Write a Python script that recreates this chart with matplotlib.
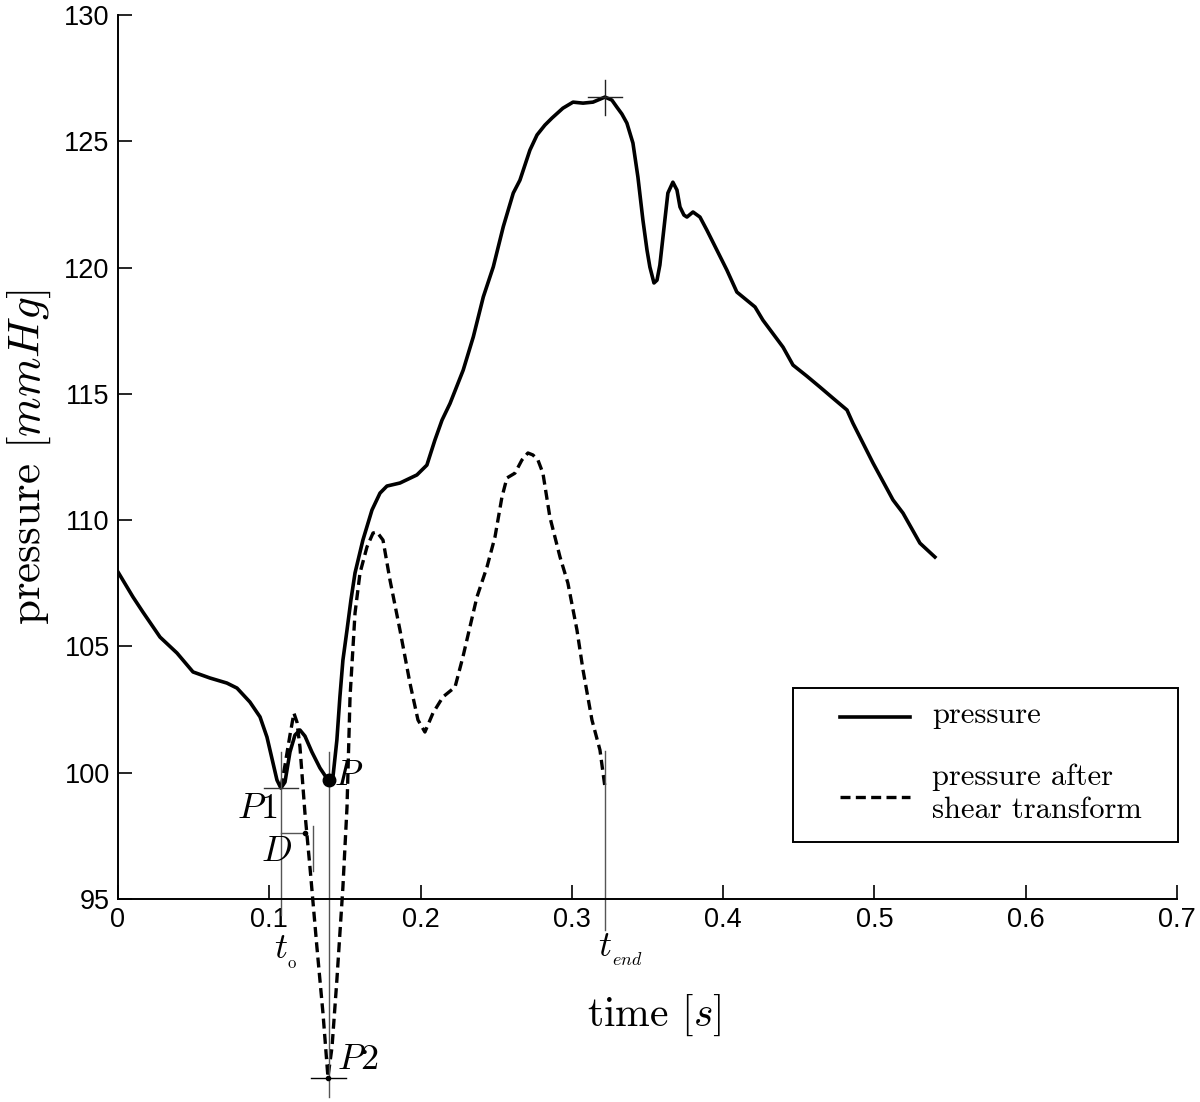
import matplotlib
matplotlib.use('Agg')
import matplotlib.pyplot as plt
from matplotlib.patches import Rectangle

plt.rcParams['font.family'] = 'cmr10'
plt.rcParams['mathtext.fontset'] = 'cm'
plt.rcParams['axes.unicode_minus'] = False
plt.rcParams['axes.formatter.use_mathtext'] = True

# pressure curve
time_s = [0.000, 0.0099, 0.0165, 0.0278, 0.0390, 0.0496, 0.0608, 0.0720, 0.0787,
          0.0872, 0.0939, 0.0985, 0.1025, 0.1051, 0.1077, 0.1104, 0.1137, 0.1170,
          0.1203, 0.1236, 0.1282, 0.1335, 0.1375, 0.1395, 0.1421, 0.1447, 0.1467,
          0.1487, 0.1514, 0.1540, 0.1567, 0.1619, 0.1679, 0.1732, 0.1778, 0.1864,
          0.1976, 0.2042, 0.2095, 0.2142, 0.2195, 0.2282, 0.2349, 0.2415, 0.2481,
          0.2547, 0.2613, 0.2657, 0.2723, 0.2770, 0.2822, 0.2869, 0.2941, 0.3008,
          0.3074, 0.3140, 0.3219, 0.3265, 0.3298, 0.3331, 0.3364, 0.3404, 0.3437,
          0.3470, 0.3497, 0.3516, 0.3543, 0.3563, 0.3582, 0.3615, 0.3635, 0.3668,
          0.3695, 0.3715, 0.3741, 0.3761, 0.3801, 0.3847, 0.3893, 0.3959, 0.4025,
          0.4091, 0.4211, 0.4263, 0.4396, 0.4462, 0.4554, 0.4640, 0.4726, 0.4819,
          0.4858, 0.4991, 0.5123, 0.5189, 0.5301, 0.5400]
pressure = [107.95, 106.96, 106.36, 105.37, 104.74, 103.99, 103.75, 103.55, 103.35,
            102.80, 102.21, 101.41, 100.38, 99.71, 99.39, 99.63, 100.82, 101.49,
            101.69, 101.45, 100.82, 100.19, 99.83, 99.71, 99.83, 101.29, 103.00,
            104.46, 105.65, 106.84, 107.91, 109.21, 110.40, 111.07, 111.35, 111.47,
            111.79, 112.18, 113.17, 113.96, 114.62, 115.94, 117.26, 118.84, 120.03,
            121.62, 122.95, 123.46, 124.65, 125.25, 125.64, 125.92, 126.31, 126.55,
            126.51, 126.55, 126.75, 126.63, 126.35, 126.08, 125.72, 124.93, 123.58,
            121.88, 120.69, 120.02, 119.39, 119.50, 120.10, 121.88, 122.95, 123.38,
            123.07, 122.40, 122.08, 122.00, 122.20, 122.00, 121.48, 120.69, 119.90,
            119.03, 118.44, 117.92, 116.85, 116.14, 115.70, 115.27, 114.83, 114.36,
            113.84, 112.26, 110.80, 110.28, 109.09, 108.54]

# pressure after shear transform
time_shear = [0.1077, 0.1104, 0.1137, 0.1163, 0.1183, 0.1203, 0.1236, 0.1269, 0.1315,
              0.1355, 0.1388, 0.1415, 0.1447, 0.1487, 0.1514, 0.1534, 0.1567, 0.1600,
              0.1646, 0.1686, 0.1712, 0.1752, 0.1798, 0.1864, 0.1930, 0.1983, 0.2029,
              0.2082, 0.2148, 0.2228, 0.2280, 0.2373, 0.2439, 0.2492, 0.2538, 0.2571,
              0.2624, 0.2670, 0.2710, 0.2743, 0.2776, 0.2809, 0.2855, 0.2922, 0.2974,
              0.3034, 0.3074, 0.3133, 0.3186, 0.3219]
pressure_shear = [99.39, 100.30, 101.49, 102.36, 102.01, 101.02, 98.40, 96.27, 93.10,
                  90.49, 87.95, 89.14, 91.79, 95.48, 98.64, 103.00, 106.32, 107.91,
                  108.94, 109.49, 109.53, 109.21, 107.63, 105.65, 103.55, 102.09, 101.61,
                  102.36, 103.00, 103.39, 104.58, 106.96, 108.14, 109.33, 110.91, 111.67,
                  111.86, 112.38, 112.66, 112.58, 112.38, 111.86, 110.12, 108.54, 107.51,
                  105.65, 104.07, 102.09, 100.90, 99.43]

# marked points
t0, p1 = 0.1077, 99.39
tp, pp = 0.1395, 99.71
tp2, p2 = 0.1388, 87.90
t_end = 0.3219
t_max, p_max = 0.3219, 126.75
d_end = 0.1236

x_ticks = [0, 0.1, 0.2, 0.3, 0.4, 0.5, 0.6, 0.7]
x_tick_labels = ['0', '0.1', '0.2', '0.3', '0.4', '0.5', '0.6', '0.7']
y_ticks = [95, 100, 105, 110, 115, 120, 125, 130]
legend_labels = ['pressure', 'pressure after\nshear transform']

fig = plt.figure(figsize=(12, 11.02), dpi=100)
ax = fig.add_axes([0.0983, 0.1842, 0.8825, 0.8022])

ax.plot(time_s, pressure, color='black', lw=2.6)
ax.plot(time_shear, pressure_shear, color='black', lw=2.4, dashes=(3, 1.6),
        clip_on=False)

grey = '#555555'
thin = dict(color=grey, lw=1.0, clip_on=False)
ax.plot([t0, t0], [100.82, 94.37], **thin)
ax.plot([tp, tp], [100.82, 87.16], **thin)
ax.plot([t_end, t_end], [100.86, 93.77], **thin)
ax.plot([0.0965, 0.1190], [p1, p1], color='#333333', lw=1.0)
ax.plot([0.1276, 0.1507], [p2, p2], color='black', lw=1.0, clip_on=False)
ax.plot([0.3107, 0.3331], [p_max, p_max], color='#222222', lw=1.0)
ax.plot([t_max, t_max], [127.42, 126.04], color='#222222', lw=1.0)
ax.plot([t0, d_end], [97.61, 97.61], color=grey, lw=1.0)
ax.plot([d_end], [97.61], 'o', color='black', ms=3)
ax.plot([0.1289, 0.1289], [97.89, 96.11], **thin)
ax.plot([tp], [pp], 'o', color='black', ms=9)
ax.plot([tp2], [p2], 'o', color='black', ms=3, clip_on=False)

ax.text(0.1053, 98.55, r'$P$1', fontsize=26, ha='right', va='center')
ax.text(0.1430, 99.85, r'$P$', fontsize=26, ha='left', va='center')
ax.text(0.1150, 96.86, r'$D$', fontsize=26, ha='right', va='center')
ax.text(0.1077, 93.0, r'$t$', fontsize=26, ha='center', va='center')
ax.text(0.1122, 92.45, 'o', fontsize=12, ha='left', va='center')
ax.text(0.3219, 93.1, r'$t$', fontsize=26, ha='center', va='center')
ax.text(0.3268, 92.6, r'$end$', fontsize=13, ha='left', va='center')
ax.text(0.1450, 88.6, r'$P$2', fontsize=26, ha='left', va='center')

ax.set_xlim(0, 0.7)
ax.set_ylim(95, 130)
ax.set_xticks(x_ticks)
ax.set_xticklabels(x_tick_labels)
ax.set_yticks(y_ticks)
ax.set_yticklabels([str(v) for v in y_ticks])
for lab in ax.get_xticklabels() + ax.get_yticklabels():
    lab.set_fontfamily('Liberation Sans')
    lab.set_fontsize(19.5)
ax.tick_params(direction='in', length=10, width=1.2, pad=6)
ax.spines['top'].set_visible(False)
ax.spines['right'].set_visible(False)
ax.spines['left'].set_linewidth(1.4)
ax.spines['bottom'].set_linewidth(1.4)

ax.set_xlabel(r'time $[s]$', fontsize=30)
ax.xaxis.set_label_coords(0.506, -0.106)
ax.set_ylabel(r'pressure $[mmHg]$', fontsize=32.5, labelpad=8)

# legend box, drawn by hand to match the original layout
tr = ax.transAxes
ax.add_patch(Rectangle((0.6374, 0.0645), 0.3635, 0.1742, transform=tr,
                       facecolor='white', edgecolor='black', lw=1.4,
                       clip_on=False, zorder=5))
ax.plot([0.6818, 0.7479], [0.2059, 0.2059], transform=tr, color='black',
        lw=2.6, clip_on=False, zorder=6)
ax.plot([0.6818, 0.7479], [0.1154, 0.1154], transform=tr, color='black',
        lw=2.4, dashes=(3, 1.6), clip_on=False, zorder=6)
ax.text(0.7686, 0.2080, legend_labels[0], transform=tr, fontsize=22,
        ha='left', va='center', zorder=6)
ax.text(0.7686, 0.1190, legend_labels[1], transform=tr, fontsize=22,
        ha='left', va='center', linespacing=1.25, zorder=6)

fig.savefig('out.png', dpi=100)
